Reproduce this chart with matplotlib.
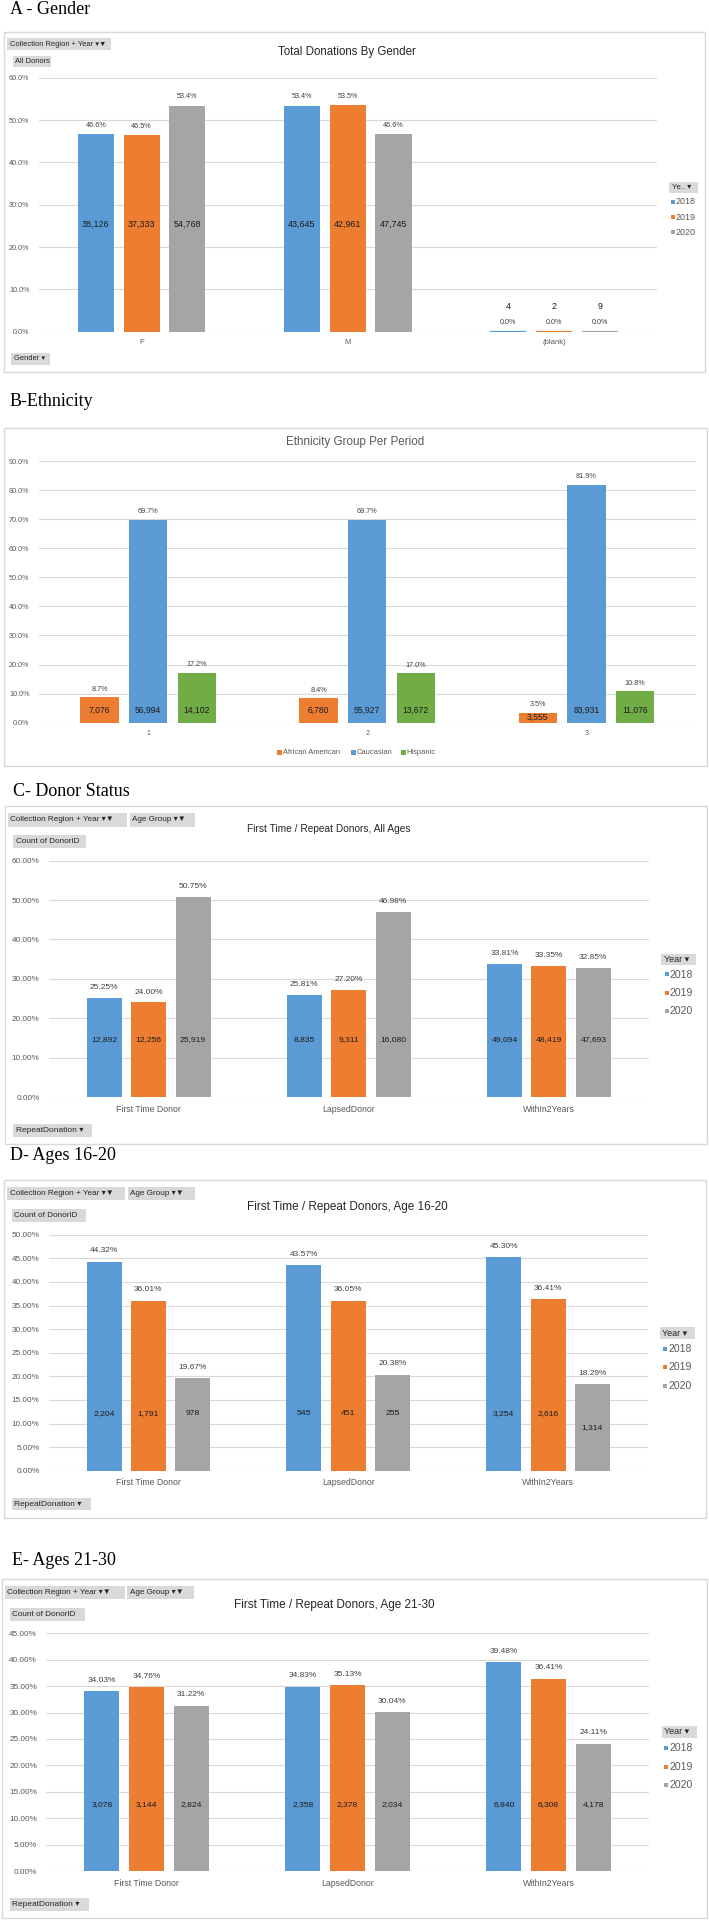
import numpy as np
import matplotlib.pyplot as plt
from matplotlib.patches import Rectangle

plt.rcParams['font.family'] = ['Liberation Sans', 'DejaVu Sans']

# ---------------- data ----------------
years = ['2018', '2019', '2020']
year_colors = ['#5B9BD5', '#ED7D31', '#A5A5A5']

gender = ['F', 'M', '(blank)']
gender_pct_2018 = [46.6, 53.4, 0.0]
gender_pct_2019 = [46.5, 53.5, 0.0]
gender_pct_2020 = [53.4, 46.6, 0.0]
gender_cnt_2018 = [38126, 43645, 4]
gender_cnt_2019 = [37333, 42961, 2]
gender_cnt_2020 = [54768, 47745, 9]

periods = ['1', '2', '3']
ethnic_groups = ['African American', 'Caucasian', 'Hispanic']
ethnic_colors = ['#ED7D31', '#5B9BD5', '#70AD47']
eth_pct_aa = [8.7, 8.4, 3.5]
eth_pct_cau = [69.7, 69.7, 81.9]
eth_pct_his = [17.2, 17.0, 10.8]
eth_cnt_aa = [7076, 6780, 3555]
eth_cnt_cau = [56994, 55927, 83931]
eth_cnt_his = [14102, 13672, 11076]

status = ['First Time Donor', 'LapsedDonor', 'WithIn2Years']
all_pct_2018 = [25.25, 25.81, 33.81]
all_pct_2019 = [24.00, 27.20, 33.35]
all_pct_2020 = [50.75, 46.98, 32.85]
all_cnt_2018 = [12892, 8835, 49094]
all_cnt_2019 = [12256, 9311, 48419]
all_cnt_2020 = [25919, 16080, 47693]

a1620_pct_2018 = [44.32, 43.57, 45.30]
a1620_pct_2019 = [36.01, 36.05, 36.41]
a1620_pct_2020 = [19.67, 20.38, 18.29]
a1620_cnt_2018 = [2204, 545, 3254]
a1620_cnt_2019 = [1791, 451, 2616]
a1620_cnt_2020 = [978, 255, 1314]

a2130_pct_2018 = [34.03, 34.83, 39.48]
a2130_pct_2019 = [34.76, 35.13, 36.41]
a2130_pct_2020 = [31.22, 30.04, 24.11]
a2130_cnt_2018 = [3078, 2358, 6840]
a2130_cnt_2019 = [3144, 2378, 6308]
a2130_cnt_2020 = [2824, 2034, 4178]

# ---------------- layout helpers (pixel coords, origin top-left) ----------------
W, H = 709, 1920
fig = plt.figure(figsize=(W / 100, H / 100), dpi=100)


def fx(x):
    return x / W


def fy(y):
    return 1 - y / H


def rect(x0, y0, x1, y1, **kw):
    fig.add_artist(Rectangle((fx(x0), fy(y1)), (x1 - x0) / W, (y1 - y0) / H,
                             transform=fig.transFigure, **kw))


def button(x0, y0, x1, y1, label, size):
    rect(x0, y0, x1, y1, fc='#D9D9D9', ec='none')
    fig.text(fx(x0 + 2.5), fy((y0 + y1) / 2), label, size=size, color='#262626',
             va='center', ha='left')


def heading(x, y, label):
    fig.text(fx(x), fy(y), label, size=13, family='Liberation Serif', va='center', ha='left')


def chart_title(x, y, label, size, color='#262626'):
    fig.text(fx(x), fy(y), label, size=size, color=color, ha='center', va='center')


def year_legend(xm, y0, pitch, size, sq=4.0):
    for i, (lab, c) in enumerate(zip(years, year_colors)):
        y = y0 + i * pitch
        rect(xm - sq / 2, y - sq / 2, xm + sq / 2, y + sq / 2, fc=c, ec='none')
        fig.text(fx(xm + sq / 2 + 1), fy(y), lab, size=size, color='#595959', va='center')


def bar_chart(x0, y0, x1, y1, cats, series, counts, colors, ymax, ystep, dec,
              cnt_at, gap, fs_tick, fs_pct, fs_cnt, fs_cat):
    ax = fig.add_axes([fx(x0), fy(y1), (x1 - x0) / W, (y1 - y0) / H])
    x = np.arange(len(cats))
    n = len(series)
    width, step = 0.175, 0.222
    for i in range(n):
        xs = x + (i - (n - 1) / 2) * step
        vals = series[i]
        lw = [1.6 if v < 0.1 else 0 for v in vals]
        ax.bar(xs, vals, width, color=colors[i], edgecolor=colors[i], linewidth=lw)
        for xi, v, k in zip(xs, vals, counts[i]):
            ax.annotate(f'{v:.{dec}f}%', (xi, v), xytext=(0, gap), textcoords='offset points',
                        ha='center', va='center', size=fs_pct, color='#404040')
            if v < 1:
                ax.annotate(f'{k:,}', (xi, v), xytext=(0, 18), textcoords='offset points',
                            ha='center', va='center', size=fs_cnt, color='#1A1A1A')
            else:
                yc = cnt_at if v >= 1.5 * cnt_at else v / 2
                ax.text(xi, yc, f'{k:,}', ha='center', va='center', size=fs_cnt, color='#1A1A1A')
    ax.set_xlim(-0.5, len(cats) - 0.5)
    ax.set_ylim(0, ymax)
    ticks = np.arange(0, ymax + ystep / 2, ystep)
    ax.set_yticks(ticks)
    ax.set_yticklabels([f'{t:.{dec}f}%' for t in ticks])
    ax.set_xticks(x)
    ax.set_xticklabels(cats)
    ax.tick_params(length=0, colors='#595959')
    ax.tick_params(axis='y', labelsize=fs_tick, pad=6.5)
    ax.tick_params(axis='x', labelsize=fs_cat, pad=5.5)
    for s in ax.spines.values():
        s.set_visible(False)
    ax.yaxis.grid(True, color='#D9D9D9', lw=0.8)
    ax.set_axisbelow(True)
    ax.patch.set_alpha(0)
    return ax


BOX = dict(fc='none', ec='#D9D9D9', lw=1)

# ---------------- A - Gender ----------------
heading(10, 9.5, 'A - Gender')
rect(3.6, 31.7, 705, 371.7, **BOX)
button(7, 38, 111, 50, 'Collection Region + Year ▾▼', 5.4)
button(12.5, 56.5, 50.5, 66.5, 'All Donors', 5.4)
button(11, 353, 50, 365, 'Gender ▾', 5.4)
button(669, 182, 698, 193, 'Ye.. ▾', 5.6)
chart_title(347, 51.7, 'Total Donations By Gender', 8.3)
bar_chart(38.5, 77.7, 657, 331.7, gender,
          [gender_pct_2018, gender_pct_2019, gender_pct_2020],
          [gender_cnt_2018, gender_cnt_2019, gender_cnt_2020],
          year_colors, 60, 10, 1, 25.4, 6.3, 5.25, 5.2, 6.4, 5.6)
year_legend(673, 201.7, 15.3, 6.4)

# ---------------- B - Ethnicity ----------------
heading(10, 401.7, 'B-Ethnicity')
rect(4, 428.3, 707, 766, **BOX)
chart_title(355, 442.3, 'Ethnicity Group Per Period', 8.4, '#595959')
bar_chart(38.5, 461, 696, 722.7, periods,
          [eth_pct_aa, eth_pct_cau, eth_pct_his],
          [eth_cnt_aa, eth_cnt_cau, eth_cnt_his],
          ethnic_colors, 90, 10, 1, 4.4, 5.8, 5.25, 5.2, 6.2, 5.0)
for xm, lab, c in zip([279.6, 353.4, 403.3], ethnic_groups, ethnic_colors):
    rect(xm - 2.2, 752.3 - 2.2, xm + 2.2, 752.3 + 2.2, fc=c, ec='none')
    fig.text(fx(xm + 3.5), fy(752.3), lab, size=5.4, color='#595959', va='center')

# ---------------- C - Donor Status ----------------
heading(12.7, 791, 'C- Donor Status')
rect(4.5, 806, 707, 1144.3, **BOX)
button(8, 813.3, 127, 826.7, 'Collection Region + Year ▾▼', 5.9)
button(130, 813.3, 195, 826.7, 'Age Group ▾▼', 5.9)
button(13, 835, 86, 848.3, 'Count of DonorID', 5.9)
button(13, 1124, 91.5, 1136.7, 'RepeatDonation ▾', 6.0)
button(661, 954, 696, 965, 'Year ▾', 6.5)
chart_title(328.5, 829, 'First Time / Repeat Donors, All Ages', 7.3)
bar_chart(48.5, 860.7, 649, 1097, status,
          [all_pct_2018, all_pct_2019, all_pct_2020],
          [all_cnt_2018, all_cnt_2019, all_cnt_2020],
          year_colors, 60, 10, 2, 14.7, 7.5, 5.9, 6.0, 6.1, 6.3)
year_legend(666.7, 974.5, 18.3, 7.5)

# ---------------- D - Ages 16-20 ----------------
heading(10, 1156, 'D- Ages 16-20')
rect(3.6, 1180, 705.5, 1518.3, **BOX)
button(7, 1187.3, 125, 1200, 'Collection Region + Year ▾▼', 5.9)
button(128, 1187.3, 195, 1200, 'Age Group ▾▼', 5.9)
button(12, 1209, 86, 1221.7, 'Count of DonorID', 5.9)
button(12, 1498, 90.6, 1510, 'RepeatDonation ▾', 6.0)
button(660, 1327, 695, 1339, 'Year ▾', 6.5)
chart_title(347.5, 1206.7, 'First Time / Repeat Donors, Age 16-20', 8.45)
bar_chart(48.5, 1234.7, 648, 1470.7, status,
          [a1620_pct_2018, a1620_pct_2019, a1620_pct_2020],
          [a1620_cnt_2018, a1620_cnt_2019, a1620_cnt_2020],
          year_colors, 50, 5, 2, 12.2, 7.8, 5.9, 6.0, 6.1, 6.3)
year_legend(665, 1349, 18.3, 7.5)

# ---------------- E - Ages 21-30 ----------------
heading(12, 1560.7, 'E- Ages 21-30')
rect(1.5, 1579, 707, 1918.3, **BOX)
button(5, 1585.7, 125, 1599, 'Collection Region + Year ▾▼', 5.9)
button(127, 1585.7, 193.5, 1599, 'Age Group ▾▼', 5.9)
button(10, 1607.7, 85, 1621, 'Count of DonorID', 5.9)
button(10, 1897.7, 89, 1910.7, 'RepeatDonation ▾', 6.0)
button(661.5, 1726, 697, 1738, 'Year ▾', 6.5)
chart_title(334, 1605, 'First Time / Repeat Donors, Age 21-30', 8.5)
bar_chart(46, 1633.3, 649, 1871, status,
          [a2130_pct_2018, a2130_pct_2019, a2130_pct_2020],
          [a2130_cnt_2018, a2130_cnt_2019, a2130_cnt_2020],
          year_colors, 45, 5, 2, 12.6, 8.0, 5.9, 6.0, 6.1, 6.3)
year_legend(666, 1748.3, 18.3, 7.5)

fig.savefig('out.png', dpi=100)
